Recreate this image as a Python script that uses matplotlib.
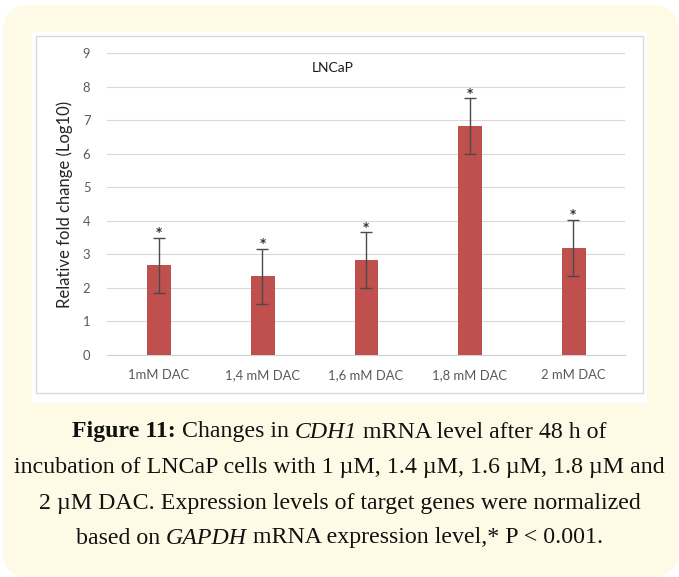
import matplotlib.pyplot as plt
import numpy as np
from matplotlib.patches import FancyBboxPatch, Rectangle
from matplotlib.offsetbox import TextArea, HPacker, AnchoredOffsetbox

# data
categories = ["1mM DAC", "1,4 mM DAC", "1,6 mM DAC", "1,8 mM DAC", "2 mM DAC"]
fold_change = [2.67, 2.34, 2.83, 6.82, 3.18]
sem = [0.82, 0.82, 0.83, 0.83, 0.84]
yticks = [0, 1, 2, 3, 4, 5, 6, 7, 8, 9]

caption_lines = [
    [("Figure 11:", "bold"), ("Changes in", "normal"), ("CDH1", "italic"),
     ("mRNA level after 48 h of", "normal")],
    [("incubation of LNCaP cells with 1 µM, 1.4 µM, 1.6 µM, 1.8 µM and", "normal")],
    [("2 µM DAC. Expression levels of target genes were normalized", "normal")],
    [("based on", "normal"), ("GAPDH", "italic"),
     ("mRNA expression level,* P < 0.001.", "normal")],
]

W, H = 679, 577
fig = plt.figure(figsize=(W / 100, H / 100), dpi=100)
fig.patch.set_facecolor("white")

# cream card + white chart panel (pixel coords)
fig.patches.append(FancyBboxPatch((3, 0), 675, 572, boxstyle="round,pad=0,rounding_size=26",
                                  transform=None, facecolor="#fffae6", edgecolor="none", zorder=-10))
fig.patches.append(Rectangle((32, H - 403), 615, 371, transform=None,
                             facecolor="white", edgecolor="none", zorder=-9))
fig.patches.append(Rectangle((36, H - 393), 607, 357, transform=None,
                             facecolor="none", edgecolor="#d9d9d9", lw=1.0, zorder=-8))

ax = fig.add_axes([107 / W, 1 - 355 / H, (625 - 107) / W, (355 - 53) / H])
ax.set_facecolor("none")

x = np.arange(len(categories))
ax.bar(x, fold_change, width=0.22, color="#c0504d", edgecolor="#b3413e", lw=0.6, zorder=3)
ax.errorbar(x, fold_change, yerr=sem, fmt="none", ecolor="#4a4a4a", elinewidth=1.0,
            capsize=4, capthick=1.0, zorder=4)
for xi, v, e in zip(x, fold_change, sem):
    ax.annotate("*", (xi, v + e), xytext=(0, -1), textcoords="offset points",
                ha="center", va="bottom", fontsize=8.5, color="#333333",
                fontfamily="DejaVu Sans", fontweight="bold", zorder=5)

ax.set_xlim(-0.5, len(categories) - 0.5)
ax.set_ylim(0, 9)
ax.set_yticks(yticks)
ax.set_xticks(x)
ax.set_xticklabels(categories)
ax.grid(axis="y", color="#d9d9d9", lw=0.8, zorder=0)
for s in ["top", "right", "left"]:
    ax.spines[s].set_visible(False)
ax.spines["bottom"].set_color("#d0d0d0")
ax.tick_params(axis="both", length=0, labelsize=9.4, labelcolor="#595959", labelfontfamily="Lato")
ax.tick_params(axis="y", pad=12)
ax.tick_params(axis="x", pad=10)
ax.set_ylabel("Relative fold change (Log10)", fontsize=12, color="#262626",
              fontfamily="Lato", labelpad=7)
ax.text(0.436, 8.55, "LNCaP", transform=ax.get_yaxis_transform(), ha="center", va="center",
        fontsize=10, color="#1a1a1a", fontfamily="Lato")

# caption with mixed bold / italic pieces
line_y = [432, 467, 503, 538]
for pieces, yy in zip(caption_lines, line_y):
    boxes = []
    for txt, style in pieces:
        props = dict(fontfamily="Liberation Serif", fontsize=17.2, color="#111111")
        if style == "bold":
            props["fontweight"] = "bold"
        if style == "italic":
            props["fontstyle"] = "italic"
        boxes.append(TextArea(txt, textprops=props))
    row = HPacker(children=boxes, align="baseline", pad=0, sep=4.3)
    anc = AnchoredOffsetbox(loc="center", child=row, pad=0, borderpad=0, frameon=False,
                            bbox_to_anchor=(0.5, 1 - yy / H),
                            bbox_transform=fig.transFigure)
    fig.add_artist(anc)

fig.savefig("out.png", dpi=100)
